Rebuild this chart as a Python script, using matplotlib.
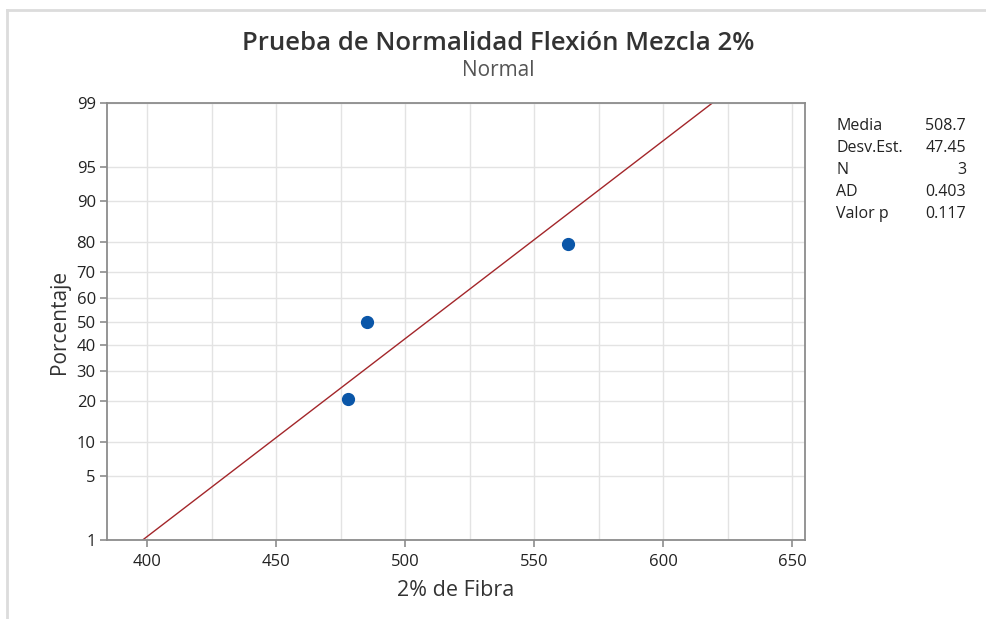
#!/usr/bin/env python3
"""Gráfica de probabilidad normal - Flexión mezcla 2%."""

from statistics import NormalDist
import numpy as np
import matplotlib
matplotlib.use("Agg")
import matplotlib.pyplot as plt
from matplotlib.lines import Line2D

plt.rcParams["font.family"] = ["Open Sans", "DejaVu Sans"]

# ── datos ──
fibra = [477.7, 485.1, 563.3]          # 2% de Fibra
porcentaje = [20.6, 50.0, 79.4]         # posición de graficación (%)
media = 508.7
desv_est = 47.45
stat_labels = ["Media", "Desv.Est.", "N", "AD", "Valor p"]
stat_values = ["508.7", "47.45", "3", "0.403", "0.117"]
y_ticks = [1, 5, 10, 20, 30, 40, 50, 60, 70, 80, 90, 95, 99]
x_ticks = [400, 450, 500, 550, 600, 650]
x_grid = [400, 425, 450, 475, 500, 525, 550, 575, 600, 625, 650]

nd = NormalDist()
def z(p):
    return np.array([nd.inv_cdf(v / 100.0) for v in np.atleast_1d(p)])

fig = plt.figure(figsize=(9.86, 6.19), dpi=100)
ax = fig.add_axes([0.1085, 0.1276, 0.708, 0.706])

# rejilla
for xv in x_grid:
    ax.axvline(xv, color="#e3e3e3", lw=1.0, zorder=0)
for yv in z(y_ticks):
    ax.axhline(yv, color="#e3e3e3", lw=1.0, zorder=0)

# línea ajustada (normal con media y desv.est.)
p_line = [1, 99]
x_line = [media + desv_est * q for q in z(p_line)]
ax.plot(x_line, z(p_line), color="#a3262a", lw=1.0, zorder=2)

ax.plot(fibra, z(porcentaje), "o", color="#0a56a8", markersize=8.5, zorder=3)

ax.set_xlim(384.5, 655)
ax.set_ylim(z([1])[0], z([99])[0])
ax.set_xticks(x_ticks)
ax.set_yticks(z(y_ticks))
ax.set_yticklabels([str(v) for v in y_ticks])
ax.tick_params(axis="both", colors="#8c8c8c", labelcolor="#222222",
               labelsize=12, length=5, width=1.2)
ax.tick_params(axis="x", pad=5)
ax.tick_params(axis="y", pad=3)
for s in ax.spines.values():
    s.set_color("#8c8c8c")
    s.set_linewidth(1.3)

ax.set_xlabel("2% de Fibra", fontsize=15.5, color="#333333", labelpad=7)
ax.set_ylabel("Porcentaje", fontsize=15, color="#333333", labelpad=5)

fig.text(0.505, 1 - 43 / 619, "Prueba de Normalidad Flexión Mezcla 2%",
         ha="center", va="center", fontsize=18.5, weight="semibold", color="#333333")
fig.text(0.505, 1 - 71 / 619, "Normal", ha="center", va="center",
         fontsize=15, color="#555555")

# tabla de estadísticos
for i, (lab, val) in enumerate(zip(stat_labels, stat_values)):
    yy = 1 - (126 + 22 * i) / 619
    fig.text(836 / 986, yy, lab, ha="left", va="center", fontsize=11.5, color="#222222")
    fig.text(966 / 986, yy, val, ha="right", va="center", fontsize=11.5, color="#222222")

# borde gris del marco
fig.add_artist(Line2D([7 / 986, 1], [1 - 10 / 619] * 2, color="#dcdcdc", lw=2))
fig.add_artist(Line2D([7 / 986] * 2, [0, 1 - 10 / 619], color="#dcdcdc", lw=2))

fig.savefig("out.png", dpi=100)
